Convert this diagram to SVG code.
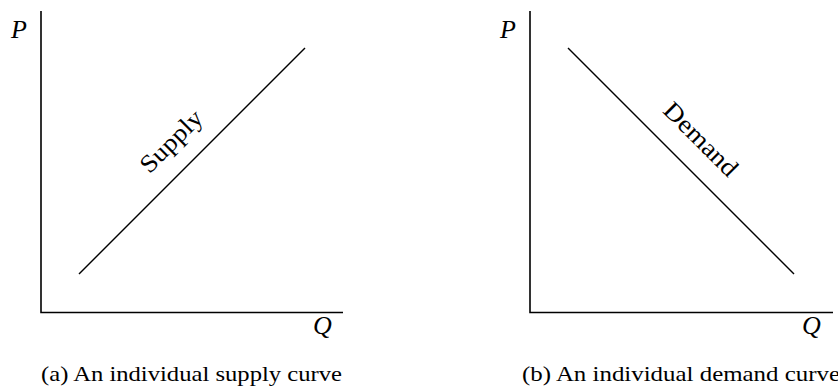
<svg xmlns="http://www.w3.org/2000/svg" width="838" height="388" viewBox="0 0 838 388">
<style>
.axis{fill:none;stroke:#000;stroke-width:1.6}
.curve{fill:none;stroke:#000;stroke-width:1.4}
.var{font-family:"Liberation Serif","DejaVu Serif",serif;font-style:italic;font-size:26px;fill:#000}
.lbl{font-family:"Liberation Serif","DejaVu Serif",serif;font-size:25px;fill:#000;text-anchor:middle}
.cap{font-family:"Liberation Serif","DejaVu Serif",serif;font-size:21px;fill:#000}
</style>
<rect width="838" height="388" fill="#fff"/>
<g id="panel-a">
<g id="axes-a"><path class="axis" d="M41,11 V312.5 H343"/></g>
<text class="var" x="11" y="38">P</text>
<text class="var" x="313" y="334">Q</text>
<g id="supply-curve"><line class="curve" x1="79" y1="274" x2="305" y2="48"/>
<text class="lbl" transform="translate(177,147) rotate(-45)" textLength="78" lengthAdjust="spacingAndGlyphs">Supply</text></g>
<text class="cap" x="41" y="381" textLength="301" lengthAdjust="spacingAndGlyphs">(a) An individual supply curve</text>
</g>
<g id="panel-b">
<g id="axes-b"><path class="axis" d="M530,11 V312.5 H833"/></g>
<text class="var" x="500" y="38">P</text>
<text class="var" x="802" y="334">Q</text>
<g id="demand-curve"><line class="curve" x1="568" y1="48" x2="794" y2="274"/>
<text class="lbl" transform="translate(695,145) rotate(45)" textLength="94" lengthAdjust="spacingAndGlyphs">Demand</text></g>
<text class="cap" x="522" y="381" textLength="318" lengthAdjust="spacingAndGlyphs">(b) An individual demand curve</text>
</g>
</svg>
